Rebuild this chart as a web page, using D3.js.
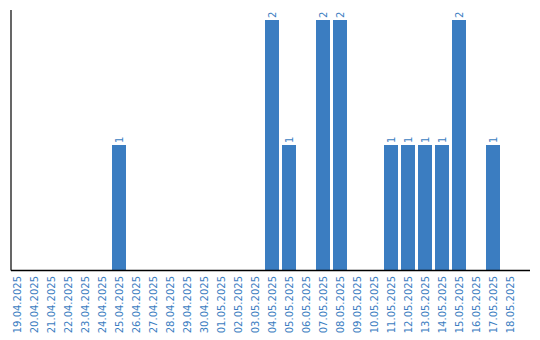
<!DOCTYPE html>
<html>
<head>
<meta charset="utf-8">
<script src="https://cdn.jsdelivr.net/npm/d3@7"></script>
<style>
  body { margin: 0; background: #fff; }
  text { font-family: "DejaVu Sans", Verdana, sans-serif; }
</style>
</head>
<body>
<div id="chart"></div>
<script>
// DATA
var dates = ["19.04.2025","20.04.2025","21.04.2025","22.04.2025","23.04.2025","24.04.2025",
  "25.04.2025","26.04.2025","27.04.2025","28.04.2025","29.04.2025","30.04.2025","01.05.2025",
  "02.05.2025","03.05.2025","04.05.2025","05.05.2025","06.05.2025","07.05.2025","08.05.2025",
  "09.05.2025","10.05.2025","11.05.2025","12.05.2025","13.05.2025","14.05.2025","15.05.2025",
  "16.05.2025","17.05.2025","18.05.2025"];
var counts = [0,0,0,0,0,0,1,0,0,0,0,0,0,0,0,2,1,0,2,2,0,0,1,1,1,1,2,0,1,0];

var blue = "#3b7dc1";
var width = 540, height = 340;

var svg = d3.select("#chart").append("svg")
    .attr("width", width)
    .attr("height", height);

// SCALES
var x = d3.scaleBand()
    .domain(dates)
    .range([8.5, 518.5])
    .paddingInner(3 / 17)
    .paddingOuter(1.5 / 17);

var y = d3.scaleLinear()
    .domain([0, 2])
    .range([270, 20]);

// ONLY NON-ZERO DAYS GET A BAR
var bars = dates.map(function(d, i) { return {date: d, value: counts[i]}; })
  .filter(function(d) { return d.value > 0; });

svg.selectAll("rect.bar")
  .data(bars)
  .enter()
  .append("rect")
    .attr("class", "bar")
    .attr("x", function(d) { return x(d.date); })
    .attr("y", function(d) { return y(d.value); })
    .attr("width", x.bandwidth())
    .attr("height", function(d) { return y(0) - y(d.value); })
    .attr("fill", blue);

// VALUE LABELS
svg.selectAll("text.val")
  .data(bars)
  .enter()
  .append("text")
    .attr("class", "val")
    .attr("transform", function(d) {
      return "translate(" + (x(d.date) + x.bandwidth() / 2 + 3.5) + "," + (y(d.value) - 2) + ") rotate(-90)";
    })
    .attr("fill", blue)
    .attr("font-size", "10px")
    .text(function(d) { return d.value; });

// X AXIS LABELS
var xAxis = svg.append("g")
    .attr("transform", "translate(0,270)")
    .call(d3.axisBottom(x).tickSize(0).tickPadding(0));
xAxis.select(".domain").remove();
xAxis.selectAll("text")
    .attr("fill", blue)
    .attr("font-size", "10px")
    .attr("text-anchor", "end")
    .attr("transform", "rotate(-90)")
    .attr("x", -6)
    .attr("y", 0)
    .attr("dy", "0.35em");

// AXIS LINES
svg.append("line")
    .attr("x1", 11).attr("x2", 530)
    .attr("y1", 270.5).attr("y2", 270.5)
    .attr("stroke", "#000").attr("stroke-width", 1.5);
svg.append("line")
    .attr("x1", 11).attr("x2", 11)
    .attr("y1", 10).attr("y2", 270.5)
    .attr("stroke", "#000").attr("stroke-width", 1.2);
</script>
</body>
</html>
